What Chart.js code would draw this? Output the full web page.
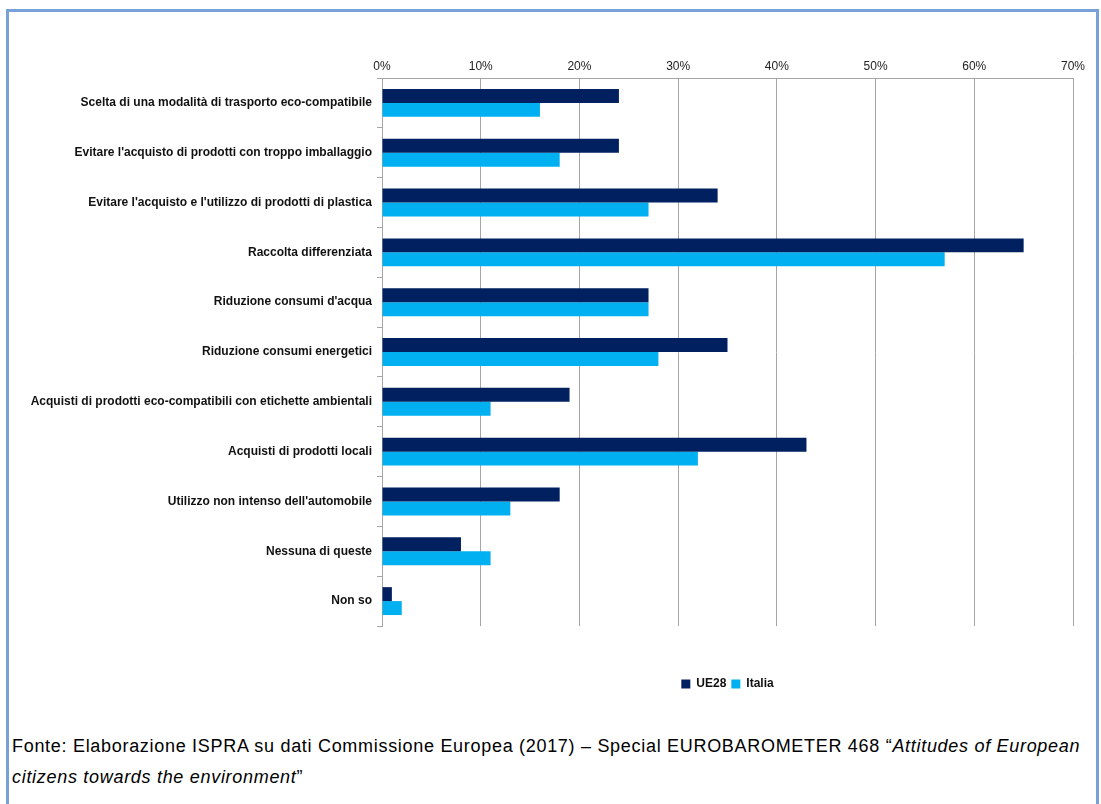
<!DOCTYPE html>
<html>
<head>
<meta charset="utf-8">
<script src="https://cdn.jsdelivr.net/npm/chart.js@4"></script>
<style>
  body { margin: 0; background: #fff; width: 1101px; height: 804px; overflow: hidden; position: relative; }
  #frame { position: absolute; left: 6px; top: 9px; width: 1087px; height: 820px; border: 3px solid #78a1d7; }
  #wrap { position: absolute; left: 10px; top: 12px; width: 1085px; height: 698px; }
  #note { position: absolute; left: 12px; top: 731px; width: 1085px; font-family: "Liberation Sans", sans-serif; font-size: 18px; letter-spacing: 0.7px; line-height: 31px; color: #000; white-space: nowrap; }
</style>
</head>
<body>
<div id="frame"></div>
<div id="wrap"><canvas id="myChart"></canvas></div>
<div id="note">Fonte: Elaborazione ISPRA su dati Commissione Europea (2017) – Special EUROBAROMETER 468 “<i>Attitudes of European</i><br><i>citizens towards the environment</i>”</div>
<script>
 // Categories and values (percent)
 const categories = [
   'Scelta di una modalità di trasporto eco-compatibile',
   "Evitare l'acquisto di prodotti con troppo imballaggio",
   "Evitare l'acquisto e l'utilizzo di prodotti di plastica",
   'Raccolta differenziata',
   "Riduzione consumi d'acqua",
   'Riduzione consumi energetici',
   'Acquisti di prodotti eco-compatibili con etichette ambientali',
   'Acquisti di prodotti locali',
   "Utilizzo non intenso dell'automobile",
   'Nessuna di queste',
   'Non so'
 ];
 const ue28 = [24, 24, 34, 65, 27, 35, 19, 43, 18, 8, 1];
 const italia = [16, 18, 27, 57, 27, 28, 11, 32, 13, 11, 2];
 const tickValues = [0, 10, 20, 30, 40, 50, 60, 70];

 const ctx = document.getElementById('myChart').getContext('2d');
 const myChart = new Chart(ctx, {
   type: 'bar',
   data: {
     labels: categories,
     datasets: [
       { label: 'UE28', data: ue28, backgroundColor: '#002060', categoryPercentage: 0.56, barPercentage: 1 },
       { label: 'Italia', data: italia, backgroundColor: '#00b0f0', categoryPercentage: 0.56, barPercentage: 1 }
     ]
   },
   options: {
     indexAxis: 'y',
     responsive: true,
     maintainAspectRatio: false,
     animation: false,
     layout: { padding: { top: 46, right: 22, bottom: 10, left: 0 } },
     scales: {
       x: {
         position: 'top',
         min: 0,
         max: 70,
         afterBuildTicks: (scale) => { scale.ticks = tickValues.map(v => ({ value: v })); },
         afterFit: (scale) => { scale.height = 20; },
         ticks: {
           callback: (v) => v + '%',
           color: '#222',
           padding: 4,
           font: { family: 'Liberation Sans', size: 12 }
         },
         grid: { color: '#a6a6a6', lineWidth: 1, drawTicks: false },
         border: { color: '#a6a6a6' }
       },
       // empty spacer between the plot and the legend
       gap: {
         type: 'linear',
         axis: 'x',
         position: 'bottom',
         afterFit: (scale) => { scale.height = 47; },
         ticks: { display: false },
         grid: { display: false },
         border: { display: false }
       },
       y: {
         afterFit: (scale) => { scale.width = 372; },
         ticks: {
           color: '#111',
           padding: 5,
           font: { family: 'Liberation Sans', size: 12, weight: 'bold' }
         },
         grid: { drawOnChartArea: false, tickLength: 5, color: '#a6a6a6' },
         border: { color: '#a6a6a6' }
       }
     },
     plugins: {
       tooltip: { enabled: false },
       legend: {
         position: 'bottom',
         fullSize: false,
         labels: {
           boxWidth: 9,
           boxHeight: 9,
           padding: 5,
           color: '#111',
           font: { family: 'Liberation Sans', size: 12, weight: 'bold' }
         }
       }
     }
   }
 });
</script>
</body>
</html>
